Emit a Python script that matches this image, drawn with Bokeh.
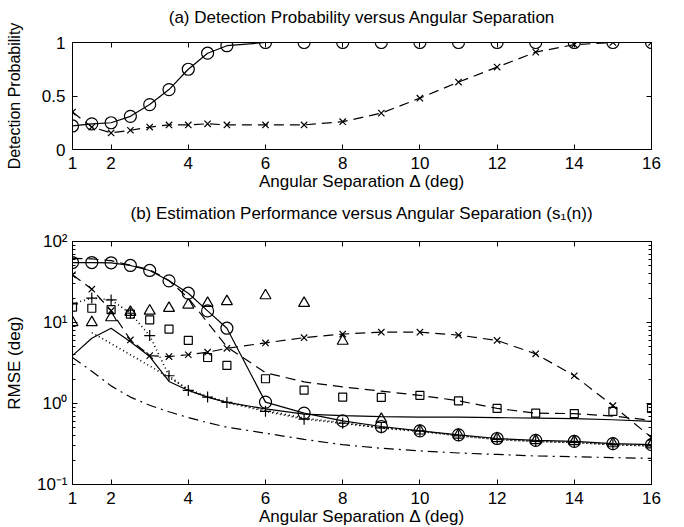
from bokeh.plotting import figure
from bokeh.layouts import column
from bokeh.models import FixedTicker, LinearAxis, LogAxis, Range1d, CustomJSTickFormatter
from bokeh.embed import file_html
from bokeh.resources import INLINE

# ---------------- data ----------------
sep = [1, 1.5, 2, 2.5, 3, 3.5, 4, 4.5, 5, 6, 7, 8, 9, 10, 11, 12, 13, 14, 15, 16]
x_ticks = [1, 2, 4, 6, 8, 10, 12, 14, 16]

# (a) detection probability
pd_circle = [0.22, 0.24, 0.25, 0.31, 0.42, 0.56, 0.75, 0.90, 0.97, 1, 1, 1, 1, 1, 1, 1, 1, 1, 1, 1]
pd_cross = [0.35, 0.21, 0.155, 0.18, 0.21, 0.23, 0.23, 0.24, 0.23, 0.23, 0.23, 0.26, 0.34, 0.48,
            0.63, 0.77, 0.91, 0.98, 1.0, 1.0]

# (b) RMSE
rmse_circle = [55, 55, 54.6, 50.6, 43.9, 32.7, 23, 13.9, 8.5, 1.04, 0.76, 0.61, 0.52, 0.46,
               0.41, 0.37, 0.35, 0.34, 0.32, 0.31]
rmse_cross = [38.8, 25.8, 14, 6.1, 3.9, 3.8, 4.0, 4.3, 4.8, 5.6, 6.5, 7.2, 7.6, 7.6, 7.0, 6.0,
              4.1, 2.2, 0.94, 0.38]
rmse_square = [15.5, 15, 14.4, 12.7, 10.8, 8.3, 6.0, 3.7, 2.95, 2.02, 1.46, 1.2, 1.19, 1.26,
               1.08, 0.87, 0.76, 0.75, 0.8, 0.87]
rmse_triangle = [10, 10, 11.5, 13.4, 13.9, 15, 16.5, 17.3, 18.2, 21.5, 17.3, 5.9, 0.64, 0.46,
                 0.41, 0.37, 0.35, 0.34, 0.32, 0.31]
rmse_plus = [17, 20, 19, 13, 6.9, 2.2, 1.45, 1.2, 1.03, 0.8, 0.64, 0.57, 0.5, 0.46, 0.4, 0.36,
             0.34, 0.33, 0.31, 0.3]
rmse_dashed = [62, 61, 58, 51, 45, 33, 20, 10, 5.0, 2.4, 1.85, 1.6, 1.42, 1.26, 1.08, 0.87,
               0.76, 0.75, 0.7, 0.62]
rmse_solid = [3.9, 6.4, 8.5, 5.8, 3.8, 1.87, 1.45, 1.2, 1.03, 0.86, 0.74, 0.71, 0.69, 0.68,
              0.68, 0.67, 0.66, 0.65, 0.63, 0.6]
sep_dotted = [1.5, 2, 2.5, 3, 3.5, 4, 4.5, 5, 6, 7, 8, 9, 10, 11, 12, 13, 14, 15, 16]
rmse_dotted = [7.5, 5.5, 4.0, 2.9, 2.1, 1.5, 1.22, 1.05, 0.82, 0.66, 0.58, 0.5, 0.45, 0.4,
               0.36, 0.34, 0.33, 0.31, 0.3]
rmse_dashdot = [3.7, 2.5, 1.65, 1.2, 0.95, 0.79, 0.67, 0.58, 0.51, 0.43, 0.36, 0.31, 0.28, 0.26,
                0.245, 0.235, 0.225, 0.22, 0.215, 0.21]

y_log_ticks = [0.1, 1, 10, 100]
y_log_labels = {0.1: "10\u207b\u00b9", 1: "10\u2070", 10: "10\u00b9", 100: "10\u00b2"}

title_a = "(a) Detection Probability versus Angular Separation"
title_b = "(b) Estimation Performance versus Angular Separation (s\u2081(n))"

FONT = "Liberation Sans"
K = "black"
LW = 1.2
FS = "17px"


def style_axis(ax):
    ax.major_tick_in = 5
    ax.major_tick_out = 0
    ax.minor_tick_in = 3
    ax.minor_tick_out = 0
    ax.axis_line_color = K
    ax.major_tick_line_color = K
    ax.minor_tick_line_color = K
    ax.major_label_text_font = FONT
    ax.major_label_text_color = K
    ax.axis_label_text_font = FONT
    ax.axis_label_text_font_style = "normal"
    ax.axis_label_text_color = K
    ax.major_label_text_font_size = FS
    ax.axis_label_text_font_size = FS


def mirror(ax):
    style_axis(ax)
    ax.formatter = CustomJSTickFormatter(code="return ''")
    ax.major_label_standoff = 0


# ---------------- (a) ----------------
p1 = figure(width=670, height=200, frame_width=579, frame_height=107,
            min_border_left=72, min_border_right=19, min_border_top=42, min_border_bottom=51,
            x_range=Range1d(1, 16), y_range=Range1d(0, 1),
            output_backend="svg", toolbar_location=None)
p1.grid.visible = False
p1.outline_line_color = K

p1.xaxis.ticker = FixedTicker(ticks=x_ticks)
p1.yaxis.ticker = FixedTicker(ticks=[0, 0.5, 1])
p1.yaxis.major_label_overrides = {0: "0", 0.5: "0.5", 1: "1"}
p1.xaxis.axis_label = "Angular Separation \u0394 (deg)"
p1.yaxis.axis_label = "Detection Probability"
for ax in p1.xaxis + p1.yaxis:
    style_axis(ax)
p1.yaxis.axis_label_text_font_size = "16px"
p1.xaxis.major_label_standoff = 7
p1.xaxis.axis_label_standoff = 0
p1.yaxis.major_label_standoff = 7
p1.yaxis.axis_label_standoff = 16
ax_top = LinearAxis(ticker=FixedTicker(ticks=x_ticks))
ax_right = LinearAxis(ticker=FixedTicker(ticks=[0, 0.5, 1]))
mirror(ax_top)
mirror(ax_right)
ax_top.axis_label = title_a
ax_top.axis_label_standoff = 16
p1.add_layout(ax_top, "above")
p1.add_layout(ax_right, "right")

p1.line(sep, pd_circle, line_color=K, line_width=LW)
p1.scatter(sep, pd_circle, marker="circle", size=12, fill_color=None, line_color=K, line_width=LW)
p1.line(sep, pd_cross, line_color=K, line_width=LW, line_dash="10 6")
p1.scatter(sep, pd_cross, marker="x", size=9, line_color=K, line_width=LW)

# ---------------- (b) ----------------
p2 = figure(width=670, height=327, frame_width=579, frame_height=243,
            min_border_left=72, min_border_right=19, min_border_top=40, min_border_bottom=44,
            x_range=Range1d(1, 16), y_range=Range1d(0.1, 100), y_axis_type="log",
            output_backend="svg", toolbar_location=None)
p2.grid.visible = False
p2.outline_line_color = K

minor = [k * 10 ** e for e in (-1, 0, 1) for k in range(2, 10)]
p2.xaxis.ticker = FixedTicker(ticks=x_ticks)
p2.yaxis.ticker = FixedTicker(ticks=y_log_ticks, minor_ticks=minor)
p2.yaxis.major_label_overrides = y_log_labels
p2.xaxis.axis_label = "Angular Separation \u0394 (deg)"
p2.yaxis.axis_label = "RMSE (deg)"
for ax in p2.xaxis + p2.yaxis:
    style_axis(ax)
p2.xaxis.major_label_standoff = 7
p2.xaxis.axis_label_standoff = 0
p2.yaxis.major_label_standoff = 5
p2.yaxis.axis_label_standoff = 10
ax_top2 = LinearAxis(ticker=FixedTicker(ticks=x_ticks))
ax_right2 = LogAxis(ticker=FixedTicker(ticks=y_log_ticks, minor_ticks=minor))
mirror(ax_top2)
mirror(ax_right2)
ax_top2.axis_label = title_b
ax_top2.axis_label_standoff = 19
p2.add_layout(ax_top2, "above")
p2.add_layout(ax_right2, "right")

# marker-less lines
p2.line(sep, rmse_dashdot, line_color=K, line_width=LW, line_dash="10 5 2 5")
p2.line(sep_dotted, rmse_dotted, line_color=K, line_width=1.6, line_dash="1 3")
p2.line(sep, rmse_solid, line_color=K, line_width=LW)
p2.line(sep, rmse_dashed, line_color=K, line_width=LW, line_dash="10 6")

# marker series
p2.line(sep, rmse_circle, line_color=K, line_width=LW)
p2.scatter(sep, rmse_circle, marker="circle", size=12, fill_color=None, line_color=K, line_width=LW)
p2.line(sep, rmse_cross, line_color=K, line_width=LW, line_dash="10 6")
p2.scatter(sep, rmse_cross, marker="x", size=9, line_color=K, line_width=LW)
p2.scatter(sep, rmse_square, marker="square", size=8, fill_color=None, line_color=K, line_width=LW)
p2.scatter(sep, rmse_triangle, marker="triangle", size=11, fill_color=None, line_color=K, line_width=LW)
p2.line(sep, rmse_plus, line_color=K, line_width=1.6, line_dash="1 3")
p2.scatter(sep, rmse_plus, marker="cross", size=11, line_color=K, line_width=LW)

layout = column(p1, p2, spacing=0)
open("out.html", "w").write(file_html(layout, INLINE))
